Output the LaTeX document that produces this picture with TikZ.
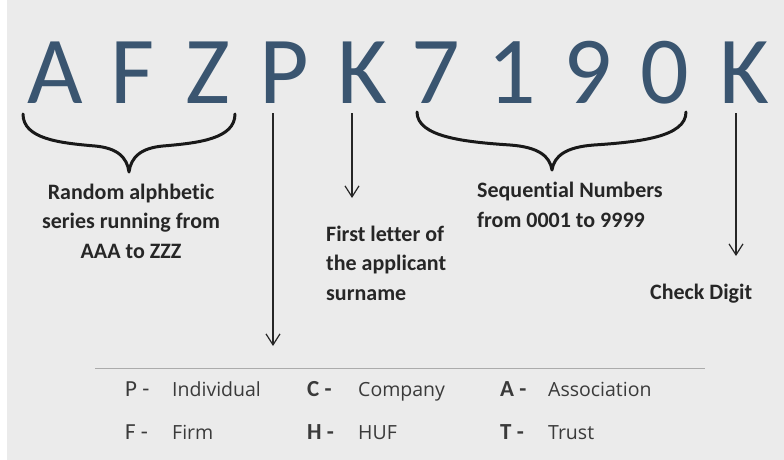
\documentclass[tikz,border=0pt]{standalone}
\usepackage{fontspec}
\setmainfont{Carlito}[Ligatures={NoCommon}]
\newfontfamily\legfont{Open Sans}[Ligatures={NoCommon}]
\usetikzlibrary{arrows.meta}
\definecolor{bgc}{HTML}{EBEBEB}
\definecolor{letc}{HTML}{3A5570}
\definecolor{txc}{HTML}{262626}
\definecolor{legc}{HTML}{3A3A3A}
\definecolor{rulec}{HTML}{ABABAB}
\begin{document}
\begin{tikzpicture}[x=1pt,y=-1pt,
  big/.style={anchor=base, inner sep=0pt, text=letc, font=\fontsize{96}{96}\selectfont},
  lab/.style={inner sep=0pt, text=txc, font=\bfseries\fontsize{22}{29.5}\selectfont},
  legkey/.style={anchor=base west, inner sep=0pt, text=legc, font=\fontsize{23}{23}\selectfont},
  legkeyb/.style={legkey, font=\bfseries\fontsize{23}{23}\selectfont},
  legtxt/.style={anchor=base west, inner sep=0pt, text=legc, font=\legfont\fontsize{19.5}{19.5}\selectfont},
  arr/.style={draw=black!85, line width=1.2pt, -{Straight Barb[length=11pt,width=14pt,line width=1.2pt]}},
  brc/.style={draw=black!90, line width=3pt, line cap=round, line join=round}]
\useasboundingbox (0,0) rectangle (784,460);
\fill[bgc] (0,0) rectangle (784,460);
\fill[white] (0,0) rectangle (7,460);

% big PAN letters
\node[big] (l1) at (55,103) {A};
\node[big] (l2) at (133,103) {F};
\node[big] (l3) at (208,103) {Z};
\node[big] (l4) at (284,103) {P};
\node[big] (l5) at (362,103) {K};
\node[big] (l6) at (436,103) {7};
\node[big] (l7) at (512,103) {1};
\node[big] (l8) at (588,103) {9};
\node[big] (l9) at (665,103) {0};
\node[big] (l10) at (744,103) {K};

% braces
\draw[brc] (23,114) .. controls (23,139) and (60,143) .. (95,146)
  .. controls (117,148) and (127,157) .. (129,172)
  .. controls (131,157) and (141,148) .. (163,146)
  .. controls (198,143) and (235,139) .. (235,114);
\draw[brc] (417,112) .. controls (417,137) and (465,142) .. (510,145)
  .. controls (538,147) and (550,156) .. (552,170)
  .. controls (554,156) and (566,147) .. (594,145)
  .. controls (639,142) and (686,137) .. (686,112);

% arrows
\coordinate (pa) at (273,113);
\coordinate (pb) at (273,346);
\coordinate (ka) at (352,113);
\coordinate (kb) at (352,198);
\coordinate (ca) at (736,113);
\coordinate (cb) at (736,256);
\draw[arr] (pa) -- (pb);
\draw[arr] (ka) -- (kb);
\draw[arr] (ca) -- (cb);

% labels
\node[lab, align=center] (t1) at (131,221) {Random alphbetic\\series running from\\AAA to ZZZ};
\node[lab, align=left, anchor=west] (t2) at (326,263) {First letter of\\the applicant\\surname};
\node[lab, align=left, anchor=west] (t3) at (477,205) {Sequential Numbers\\from 0001 to 9999};
\node[lab, anchor=west] (t4) at (650,294) {Check Digit};

% rule
\coordinate (ra) at (95,368);
\coordinate (rb) at (705,368);
\draw[rulec, line width=1pt] (ra) -- (rb);

% legend
\node[legkey] (kp) at (125,396) {P -};
\node[legtxt] (vp) at (172,396) {Individual};
\node[legkeyb] (kc) at (307,396) {C -};
\node[legtxt] (vc) at (358,396) {Company};
\node[legkeyb] (ka2) at (500,396) {A -};
\node[legtxt] (va) at (548,396) {Association};
\node[legkey] (kf) at (125,439) {F -};
\node[legtxt] (vf) at (172,439) {Firm};
\node[legkeyb] (kh) at (307,439) {H -};
\node[legtxt] (vh) at (358,439) {HUF};
\node[legkeyb] (kt) at (500,439) {T -};
\node[legtxt] (vt) at (548,439) {Trust};
\end{tikzpicture}
\end{document}
